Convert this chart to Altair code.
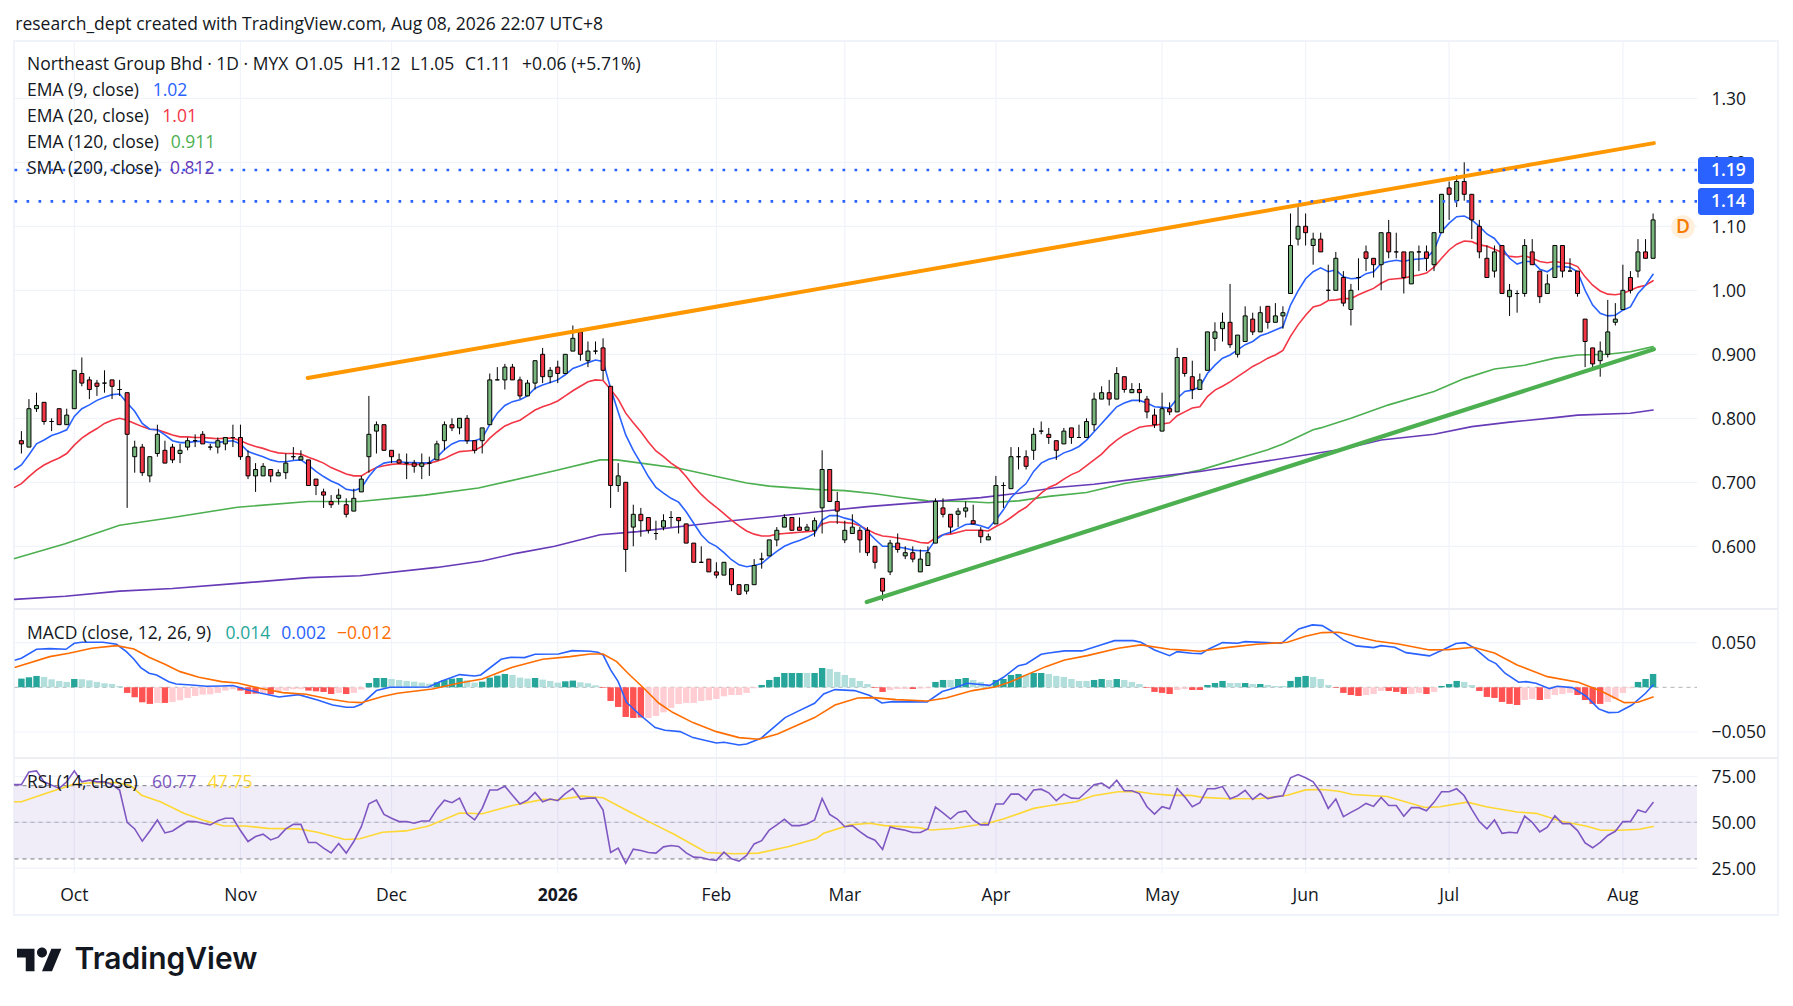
import altair as alt
import pandas as pd

FONT = "Open Sans"
INK = "#131722"
FS = 17.5

# ---------------- candles (trading-day index 0..216) ----------------
opens = [
 .765,.755,.815,.825,.795,.815,.79,.815,.87,.86,
 .855,.855,.86,.845,.84,.74,.755,.71,.745,.75,
 .755,.745,.755,.765,.775,.755,.755,.76,.77,.77,
 .74,.71,.71,.72,.71,.715,.74,.735,.735,.705,
 .685,.67,.675,.665,.655,.685,.74,.78,.79,.75,
 .735,.73,.73,.725,.73,.735,.765,.79,.785,.80,
 .765,.765,.79,.86,.86,.88,.86,.835,.855,.90,
 .865,.88,.87,.905,.935,.89,.905,.91,.85,.695,
 .70,.63,.65,.645,.62,.63,.645,.645,.635,.605,
 .575,.58,.56,.555,.565,.54,.53,.54,.58,.585,
 .61,.63,.645,.63,.625,.625,.66,.72,.67,.61,
 .62,.625,.625,.60,.55,.56,.605,.585,.59,.56,
 .57,.605,.66,.65,.65,.655,.64,.625,.61,.635,
 .695,.69,.74,.74,.75,.78,.775,.765,.76,.785,
 .77,.77,.79,.83,.84,.83,.865,.84,.845,.83,
 .805,.78,.815,.81,.895,.865,.845,.875,.925,.94,
 .95,.90,.92,.955,.935,.975,.95,.96,.995,1.08,
 1.10,1.07,1.08,1.00,1.00,1.02,.97,1.02,1.06,1.05,
 1.04,1.09,1.06,1.06,1.01,1.06,1.06,1.04,1.09,1.16,
 1.14,1.17,1.15,1.10,1.05,1.03,1.07,.99,.995,.995,
 1.06,1.03,.995,1.02,1.07,1.03,1.03,.955,.91,.89,
 .90,.95,.97,1.02,1.03,1.06,1.05]
closes = [
 .76,.815,.82,.795,.795,.79,.805,.875,.855,.845,
 .85,.855,.85,.845,.775,.755,.715,.74,.775,.73,
 .735,.75,.765,.765,.76,.755,.765,.77,.77,.74,
 .71,.72,.725,.71,.715,.73,.74,.74,.695,.695,
 .68,.665,.68,.65,.675,.705,.775,.79,.75,.74,
 .73,.73,.725,.73,.73,.76,.79,.785,.80,.765,
 .75,.785,.86,.86,.88,.86,.835,.855,.89,.865,
 .875,.87,.90,.925,.90,.905,.905,.875,.695,.71,
 .595,.65,.64,.625,.62,.64,.645,.64,.605,.575,
 .575,.56,.555,.575,.54,.525,.54,.57,.58,.61,
 .625,.645,.625,.625,.63,.64,.72,.67,.655,.625,
 .63,.61,.59,.575,.53,.605,.595,.59,.58,.58,
 .59,.67,.65,.63,.655,.66,.635,.615,.615,.695,
 .695,.74,.74,.725,.775,.78,.77,.75,.78,.77,
 .77,.795,.83,.84,.83,.87,.845,.845,.84,.81,
 .79,.815,.81,.895,.87,.845,.86,.935,.935,.95,
 .915,.93,.96,.935,.965,.95,.96,.965,1.07,1.10,
 1.09,1.08,1.06,1.00,1.05,.98,1.00,1.02,1.05,1.04,
 1.09,1.06,1.06,1.02,1.06,1.06,1.05,1.09,1.15,1.15,
 1.17,1.15,1.11,1.06,1.02,1.06,.995,1.00,.995,1.07,
 1.04,.99,1.01,1.07,1.03,1.03,.995,.92,.885,.905,
 .935,.955,1.00,1.00,1.06,1.05,1.11]
highs = [
 .78,.83,.84,.825,.80,.815,.815,.875,.895,.865,
 .86,.875,.86,.86,.84,.765,.76,.74,.79,.765,
 .76,.76,.77,.775,.78,.76,.77,.77,.79,.79,
 .75,.73,.73,.72,.72,.745,.755,.75,.735,.705,
 .69,.68,.69,.675,.69,.71,.835,.795,.79,.75,
 .745,.745,.735,.745,.74,.765,.795,.80,.80,.805,
 .765,.785,.87,.88,.885,.885,.865,.86,.89,.91,
 .88,.89,.90,.945,.94,.92,.92,.925,.85,.73,
 .70,.665,.66,.645,.64,.65,.655,.645,.635,.605,
 .60,.58,.575,.575,.565,.54,.54,.58,.59,.61,
 .63,.65,.645,.645,.635,.645,.75,.72,.685,.64,
 .65,.63,.63,.60,.55,.61,.62,.60,.60,.595,
 .60,.675,.675,.65,.66,.67,.665,.63,.62,.71,
 .70,.755,.755,.75,.785,.795,.785,.765,.785,.785,
 .79,.80,.84,.85,.86,.88,.865,.855,.855,.835,
 .815,.84,.825,.91,.895,.89,.87,.935,.95,.965,
 1.01,.93,.975,.965,.975,.975,.98,.975,1.12,1.13,
 1.12,1.09,1.09,1.04,1.06,1.03,1.01,1.05,1.07,1.05,
 1.09,1.11,1.09,1.06,1.06,1.07,1.07,1.09,1.15,1.17,
 1.18,1.20,1.15,1.11,1.07,1.07,1.07,1.01,1.00,1.08,
 1.08,1.03,1.025,1.07,1.07,1.05,1.03,.955,.91,.92,
 .985,.98,1.04,1.03,1.08,1.08,1.12]
lows = [
 .745,.755,.81,.79,.78,.79,.79,.815,.85,.83,
 .835,.84,.83,.835,.66,.715,.71,.70,.74,.73,
 .73,.73,.75,.755,.76,.75,.745,.75,.755,.735,
 .705,.685,.71,.70,.71,.705,.735,.735,.695,.68,
 .66,.66,.665,.645,.655,.685,.715,.745,.75,.73,
 .73,.705,.715,.705,.71,.735,.75,.78,.775,.76,
 .745,.745,.79,.86,.845,.86,.83,.835,.845,.855,
 .855,.855,.87,.905,.89,.88,.90,.86,.66,.685,
 .56,.60,.615,.62,.61,.625,.63,.62,.605,.575,
 .575,.56,.55,.555,.53,.525,.525,.54,.565,.585,
 .60,.63,.625,.625,.625,.615,.62,.67,.635,.605,
 .62,.59,.585,.565,.515,.555,.59,.58,.575,.56,
 .57,.605,.645,.62,.63,.645,.635,.605,.61,.635,
 .66,.69,.72,.72,.735,.775,.76,.735,.76,.76,
 .77,.77,.78,.83,.82,.83,.84,.84,.825,.80,
 .785,.78,.805,.81,.865,.83,.845,.875,.905,.92,
 .91,.895,.92,.93,.935,.94,.95,.94,.995,1.07,
 1.07,1.04,1.06,.985,1.00,.975,.945,1.00,1.03,1.02,
 1.00,1.05,1.05,.995,1.01,1.03,1.03,1.03,1.09,1.11,
 1.13,1.14,1.08,1.05,1.02,1.02,.995,.96,.965,.99,
 1.04,.98,.995,1.02,1.02,1.03,.99,.88,.875,.865,
 .895,.945,.97,.995,1.02,1.05,1.05]

# ---------------- moving averages ----------------
ma_index = [-0.9] + list(range(217))
ema9 = [
 .720,
 .727,.743,.760,.766,.773,.777,.782,.803,.815,.821,
 .828,.833,.837,.838,.824,.811,.792,.783,.782,.774,
 .765,.762,.762,.764,.764,.762,.762,.764,.765,.760,
 .748,.744,.740,.735,.732,.732,.734,.735,.727,.717,
 .709,.702,.697,.689,.687,.691,.709,.723,.730,.732,
 .732,.731,.731,.730,.731,.739,.751,.760,.765,.765,
 .765,.769,.790,.808,.820,.826,.829,.835,.847,.852,
 .856,.860,.868,.878,.882,.887,.891,.889,.847,.810,
 .774,.750,.730,.709,.692,.683,.675,.669,.654,.636,
 .618,.606,.600,.590,.579,.571,.568,.570,.573,.583,
 .592,.600,.605,.609,.614,.620,.641,.648,.648,.644,
 .641,.633,.623,.611,.600,.600,.599,.597,.594,.593,
 .593,.610,.618,.622,.628,.634,.635,.632,.628,.641,
 .657,.676,.688,.698,.717,.730,.736,.739,.746,.750,
 .756,.766,.779,.792,.805,.818,.824,.828,.828,.824,
 .818,.817,.816,.831,.842,.844,.849,.870,.883,.894,
 .899,.907,.915,.920,.929,.933,.938,.943,.977,.999,
 1.018,1.029,1.035,1.029,1.032,1.021,1.018,1.019,1.026,1.029,
 1.042,1.045,1.047,1.045,1.048,1.049,1.050,1.063,1.092,1.105,
 1.115,1.116,1.110,1.100,1.088,1.081,1.066,1.050,1.041,1.045,
 1.045,1.033,1.029,1.037,1.037,1.036,1.029,1.000,.977,.964,
 .960,.961,.969,.974,.995,1.008,1.025]
ema20 = [
 .692,
 .698,.709,.719,.727,.733,.738,.745,.758,.769,.777,
 .784,.792,.797,.800,.797,.792,.787,.783,.782,.778,
 .774,.771,.771,.770,.770,.769,.768,.769,.769,.765,
 .760,.756,.753,.749,.746,.745,.745,.744,.739,.735,
 .730,.723,.718,.713,.710,.710,.717,.723,.726,.728,
 .729,.728,.728,.728,.730,.733,.737,.743,.748,.749,
 .750,.756,.769,.779,.788,.793,.797,.805,.813,.818,
 .822,.827,.835,.843,.850,.857,.860,.859,.845,.830,
 .808,.793,.779,.763,.749,.740,.730,.722,.709,.694,
 .681,.670,.661,.651,.641,.632,.624,.619,.616,.616,
 .619,.620,.621,.622,.623,.624,.635,.638,.638,.637,
 .636,.632,.626,.620,.616,.615,.613,.611,.609,.606,
 .605,.613,.618,.619,.622,.625,.625,.625,.624,.631,
 .637,.645,.654,.661,.672,.683,.692,.697,.705,.712,
 .717,.726,.735,.744,.756,.766,.774,.780,.786,.788,
 .789,.791,.793,.804,.810,.816,.818,.834,.844,.850,
 .857,.865,.873,.881,.887,.894,.899,.906,.928,.946,
 .961,.974,.977,.984,.985,.987,.987,.993,.998,1.003,
 1.011,1.017,1.018,1.019,1.022,1.024,1.027,1.036,1.050,1.063,
 1.072,1.077,1.076,1.071,1.069,1.064,1.059,1.053,1.052,1.054,
 1.050,1.045,1.043,1.045,1.043,1.042,1.037,1.021,1.008,.999,
 .994,.993,.995,1.000,1.005,1.008,1.015]
ema120_x = [-0.9,5.8,13,20,28.6,38,44.8,53.4,60.5,70.6,76.6,78.8,82,87,92,96,99,105,109,113,116,120,125,128,132,136,141,146,152,156,165,167,171,172,176,181,187,191,195,199,203,206,210,213,216]
ema120 = [.581,.604,.633,.645,.661,.670,.670,.680,.691,.718,.735,.735,.730,.722,.709,.699,.694,.689,.687,.682,.677,.671,.670,.668,.671,.678,.684,.698,.709,.719,.751,.760,.782,.785,.800,.821,.842,.862,.877,.883,.894,.899,.900,.904,.912]
sma200_x = [-0.9,5.8,13,20,28.6,38,44.8,55,61,65.5,70.6,76.6,81.6,88.7,94,100,105.4,112,119.6,127,132,137,142,147.5,156,175,180,187,192,197,203,206,213,216]
sma200 = [.517,.522,.530,.534,.542,.551,.554,.567,.577,.589,.600,.618,.623,.633,.640,.647,.654,.662,.669,.676,.683,.692,.697,.705,.717,.752,.766,.775,.787,.794,.801,.805,.808,.813]

trend_up_x = [37.9, 216.1]
trend_up = [.863, 1.23]
trend_low_x = [111.9, 216.1]
trend_low = [.513, .908]
levels = [1.188, 1.139]

# ---------------- MACD ----------------
hist = [
 .0097,.0112,.0127,.0116,.0089,.0071,.0060,.0093,.0090,.0078,
 .0060,.0045,.0037,.0015,-.0063,-.0112,-.0168,-.0186,-.0175,-.0175,
 -.0164,-.0145,-.0119,-.0097,-.0082,-.0078,-.0063,-.0037,-.0022,-.0037,
 -.0075,-.0071,-.0063,-.0078,-.0045,-.0037,-.0022,-.0022,-.0037,-.0045,
 -.0052,-.0075,-.0063,-.0075,-.0063,-.0026,.0048,.0104,.0104,.0093,
 .0082,.0071,.0063,.0052,.0041,.0056,.0082,.0097,.0104,.0078,
 .0052,.0063,.0108,.0130,.0149,.0138,.0108,.0097,.0104,.0086,
 .0071,.0052,.0067,.0075,.0056,.0045,.0022,-.0007,-.0153,-.0220,
 -.0332,-.0343,-.0339,-.0343,-.0321,-.0280,-.0231,-.0186,-.0175,-.0175,
 -.0153,-.0145,-.0130,-.0101,-.0086,-.0086,-.0063,-.0011,.0026,.0082,
 .0116,.0160,.0160,.0160,.0160,.0160,.0216,.0205,.0172,.0138,
 .0104,.0071,.0037,-.0007,-.0052,-.0030,-.0019,-.0019,-.0019,-.0015,
 -.0011,.0060,.0082,.0082,.0093,.0104,.0082,.0060,.0019,.0082,
 .0093,.0138,.0149,.0138,.0160,.0160,.0149,.0127,.0116,.0093,
 .0071,.0071,.0082,.0093,.0082,.0093,.0082,.0060,.0037,-.0007,
 -.0052,-.0063,-.0075,-.0030,-.0019,-.0030,-.0030,.0026,.0048,.0071,
 .0048,.0048,.0048,.0037,.0037,.0026,.0015,.0015,.0071,.0116,
 .0127,.0116,.0093,.0026,-.0007,-.0063,-.0086,-.0097,-.0086,-.0075,
 -.0041,-.0041,-.0052,-.0075,-.0075,-.0063,-.0075,-.0052,.0015,.0037,
 .0071,.0060,.0026,-.0041,-.0108,-.0119,-.0164,-.0186,-.0198,-.0142,
 -.0130,-.0142,-.0130,-.0086,-.0075,-.0063,-.0086,-.0142,-.0186,-.0186,
 -.0164,-.0130,-.0063,-.0011,.0060,.0093,.0149]
hist_shade = "".join([
 "dddlllldll", "llllddddld", "llllllllld", "ddldlllldd", "ddldlldddl",
 "lllllddddl", "lddddllldl", "llddllldd" + "d", "dddlllllll", "lllllllldd",
 "ddddlddlll", "lllddllldl", "lddlddllld", "dddlddllll", "llddldllld",
 "dddllddddd", "lldldllldd", "dlllddddll", "ldddlldldd", "dllddddddl",
 "ldlllldddd", "llllddd"])
macd_x = [-0.8,0,2,3.75,5.9,7,8,10.8,12.6,13.9,14.9,15.8,16.9,17.9,19.5,20.5,22.5,24.5,26.5,28,29.6,31.6,34.1,36.7,39.2,41.2,43,44,45,47,48.8,53.9,55.4,58,60,60.8,63.5,64.8,66.6,68,71.1,72.9,75.3,76.3,77,78,79,80.1,81.9,83.9,85.2,87.2,88.9,92,93,95,96,97.9,101.1,102.7,105,106.2,107.7,110.3,112.3,113.9,115.3,119.9,121.9,123.4,125.2,128.2,130,132,133,135,136,138.1,140.4,143.2,144.7,147.2,148.2,150,152,153,154.9,156.2,157.2,159,161,162,166.8,169.1,170.9,172.2,173.4,175,176.7,179,180,181.8,183.3,186.4,188.4,189.9,191.1,192.4,194.2,195.2,196.4,198.2,199.2,200.5,202.3,203.3,205.3,207.1,208.8,210.1,211.4,213.2,215,216]
macd = [.0306,.0325,.0425,.0433,.0425,.0492,.0504,.0504,.0481,.0399,.0313,.0220,.0157,.0138,.0063,.0037,.0026,.0011,.0015,.0019,-.0022,-.0063,-.0108,-.0082,-.0142,-.0198,-.0224,-.0224,-.0190,-.0037,0,.0004,.0063,.0142,.0127,.0138,.0313,.0336,.0332,.0369,.0373,.0410,.0403,.0392,.0362,.0194,.0063,-.0168,-.0310,-.0451,-.0481,-.0496,-.0563,-.0623,-.0615,-.0645,-.0634,-.0571,-.0339,-.0272,-.0179,-.0075,-.0026,-.0037,-.0093,-.0175,-.0160,-.0164,-.0048,-.0011,.0045,.0022,.0112,.0242,.0261,.0369,.0384,.0407,.0407,.0481,.0522,.0522,.0504,.0418,.0354,.0399,.0380,.0377,.0429,.0500,.0492,.0511,.0492,.0653,.0698,.0690,.0630,.0530,.0463,.0444,.0466,.0448,.0388,.0351,.0429,.0489,.0500,.0436,.0306,.0265,.0157,.0056,.0063,.0045,-.0015,.0011,-.0004,-.0097,-.0242,-.0283,-.0280,-.0198,-.0067,.0025]
signal_x = [-0.8,3.75,6.3,9.3,12.6,14.9,16.9,19,21,23.5,26.5,28.6,31.6,34.6,37.7,40.7,43.3,45,47.8,49.8,54.4,58,61,65,69,72.6,75.3,77,78.8,80.3,82.4,84.4,86.2,88.9,92,95,97.6,100.1,105,107.7,110.7,112.8,115.8,119.9,122.4,125.9,128.9,130.8,135.6,138.1,141.1,145.2,148.2,152,153.4,156,159.5,163.5,167.6,170,172.2,174.4,177.2,179.3,182.3,186.4,188.9,192.2,195,198,202,206.1,209.1,212.2,214,216]
signal = [.0224,.0343,.0380,.0436,.0466,.0429,.0336,.0257,.0175,.0112,.0063,.0048,-.0011,-.0060,-.0078,-.0131,-.0164,-.0172,-.0104,-.0067,-.0019,.0048,.0093,.0224,.0313,.0343,.0373,.0373,.0287,.0157,-.0011,-.0179,-.0280,-.0395,-.0496,-.0563,-.0582,-.0522,-.0339,-.0198,-.0119,-.0116,-.0138,-.0153,-.0119,-.0037,.0004,.0056,.0231,.0306,.0354,.0436,.0474,.0425,.0418,.0403,.0444,.0481,.0504,.0571,.0612,.0615,.0556,.0518,.0485,.0418,.0421,.0448,.0384,.0250,.0119,.0056,-.0041,-.0172,-.0168,-.0110]

# ---------------- RSI ----------------
rsi = [
 70.6,
 70.6,77.5,78.1,72.1,70.3,68.5,72.1,78.1,72.1,73.0,
 72.1,72.1,70.6,67.6,50.0,46.4,39.7,45.3,51.3,44.2,
 45.3,48.0,50.5,50.4,49.5,48.6,50.9,52.2,52.2,45.5,
 39.5,42.2,43.5,40.4,41.9,46.4,48.9,48.9,39.0,39.0,
 35.9,33.3,38.4,33.2,39.5,47.6,60.1,62.1,54.3,52.2,
 50.4,50.4,49.5,50.7,50.7,57.2,62.1,60.7,63.2,54.5,
 51.3,57.6,67.6,67.6,69.7,64.8,60.0,62.1,66.3,61.2,
 62.7,61.8,65.7,68.5,62.7,63.2,63.2,56.7,33.5,35.9,
 27.7,35.3,34.6,33.5,33.2,36.6,37.3,36.8,33.3,31.0,
 30.8,29.7,29.2,33.7,30.1,28.8,31.9,38.2,40.0,45.8,
 48.6,51.6,48.2,48.2,49.1,51.3,63.0,54.3,51.8,47.6,
 48.2,44.9,42.0,40.2,35.2,47.5,46.4,45.7,44.4,44.4,
 46.4,58.3,55.2,51.8,55.4,56.2,51.3,48.6,48.6,60.0,
 60.0,65.4,65.4,62.1,67.6,68.1,66.1,61.8,65.4,63.2,
 63.0,66.7,70.5,71.4,68.6,73.0,67.2,67.2,65.7,58.5,
 54.5,58.5,57.4,68.5,63.9,58.5,60.7,68.3,68.3,69.5,
 62.9,64.5,67.4,62.5,65.7,62.9,63.9,64.5,74.3,76.1,
 74.3,72.1,66.3,57.6,62.7,53.1,55.4,57.6,60.3,58.7,
 63.6,59.2,59.2,53.3,58.0,58.0,56.3,60.9,66.7,66.7,
 68.3,64.5,57.1,50.4,46.4,51.3,44.0,44.6,44.2,53.4,
 50.0,44.8,47.3,53.6,49.3,49.3,45.5,38.8,36.1,39.1,
 42.8,45.1,50.4,50.4,56.7,55.4,60.77]
rsi_ma_x = [-0.9,0,3.2,6.8,8.8,12.4,14.4,15.9,18.4,21.5,24,26.8,29.6,32.6,36.7,39.2,42.8,44.8,47.8,50.9,53.9,58,61,65,69.1,71.1,74.2,77,80.3,83.9,86.4,90.7,94.5,97.6,101.6,105.2,106.2,109.7,112.3,114.3,118.8,120.4,123.4,127.9,130,134,136,139.6,141.9,145.2,147.7,149.7,152.3,154.7,156.4,160,164,167.6,170,172.2,174.4,176.2,180.8,185.8,187.8,191.4,193.9,198,200.5,204,207.1,209.1,211.6,214.2,216]
rsi_ma = [61.2,61.2,65.7,70.6,71.5,71.7,70.3,64.8,61.2,54.9,51.3,48.0,48.0,46.7,46.4,44.6,40.6,41.0,44.6,45.3,48.0,55.1,54.7,59.2,62.5,62.3,64.3,63.4,56.2,48.6,43.5,33.5,32.8,33.2,36.8,41.0,44.0,48.6,49.5,48.2,47.1,45.8,46.6,49.5,51.8,57.6,59.0,61.2,64.5,66.7,66.8,65.6,64.7,64.8,63.6,62.9,63.0,64.8,67.7,67.9,67.0,65.2,64.1,58.1,58.5,61.0,58.5,55.6,54.9,50.4,48.0,45.7,45.7,46.2,47.75]

# ---------------- axes ----------------
month_idx = [7, 29, 49, 71, 92, 109, 129, 151, 170, 189, 212]
month_labels = ["Oct", "Nov", "Dec", "2026", "Feb", "Mar", "Apr", "May", "Jun", "Jul", "Aug"]
month_weight = [400, 400, 400, 700, 400, 400, 400, 400, 400, 400, 400]
price_ticks = [0.6, 0.7, 0.8, 0.9, 1.0, 1.1, 1.2, 1.3]
macd_ticks = [0.05, -0.05]
rsi_ticks = [25, 50, 75]

WIDTH, HEIGHT = 1777, 980
LEFT, RIGHT = 6.5, 1689

xs = alt.Scale(domain=[-0.9, 221.8], range=[6.6, 1688.9], nice=False, zero=False, padding=0)
ps = alt.Scale(domain=[0.5, 1.4], range=[602.3, 26.3], nice=False, zero=False)
ms = alt.Scale(domain=[-0.08, 0.085], range=[750.8, 603.3], nice=False, zero=False)
rs = alt.Scale(domain=[22, 85], range=[865.6, 750.2], nice=False, zero=False)
X = lambda f="i": alt.X(f"{f}:Q", scale=xs, axis=None)
one = alt.Data(values=[{"a": 1}])
layers = []


def text(s, x, y, color=INK, size=FS, weight=400, align="left", font=FONT):
    layers.append(alt.Chart(one).mark_text(text=s, align=align, baseline="middle", font=font,
                                           fontSize=size, fontWeight=weight, color=color)
                  .encode(x=alt.value(x - 8), y=alt.value(y - 7)))


def line(xv, yv, scale, color, width=1.6):
    df = pd.DataFrame({"i": xv, "v": yv})
    layers.append(alt.Chart(df).mark_line(color=color, strokeWidth=width, clip=False, strokeCap="round")
                  .encode(x=X(), y=alt.Y("v:Q", scale=scale, axis=None)))


def hgrid(vals, scale, axis):
    df = pd.DataFrame({"v": vals})
    layers.append(alt.Chart(df).mark_rule(color="#f0f3fa", strokeWidth=1.2)
                  .encode(y=alt.Y("v:Q", scale=scale, axis=axis), x=alt.value(LEFT), x2=alt.value(RIGHT)))


# frame + separators
layers.append(alt.Chart(one).mark_rect(fill="transparent", stroke="#f0f3fa", strokeWidth=2).encode(
    x=alt.value(6), x2=alt.value(1770), y=alt.value(33), y2=alt.value(907)))

# vertical grid + month labels, placed by the shared time scale
months = pd.DataFrame({"i": month_idx, "label": month_labels, "w": month_weight})
layers.append(alt.Chart(months).mark_rule(color="#f0f3fa", strokeWidth=1.2).encode(
    x=X(), y=alt.value(33), y2=alt.value(865)))
for wt in sorted(set(month_weight)):
    layers.append(alt.Chart(months[months.w == wt]).mark_text(font=FONT, fontSize=FS, fontWeight=wt, color=INK,
                                                              baseline="middle", align="center")
                  .encode(x=X(), y=alt.value(887.5), text="label:N"))


def vaxis(ticks, expr):
    return alt.Axis(values=ticks, orient="right", offset=-74, labelPadding=0, domain=False, ticks=False,
                    grid=False, title=None, labelFont=FONT, labelFontSize=FS, labelColor=INK,
                    labelOverlap=False, labelExpr=expr, labelAlign="left", labelOffset=1)


hgrid(price_ticks, ps, vaxis(price_ticks, "datum.value>=1?format(datum.value,'.2f'):format(datum.value,'.3f')"))
hgrid(macd_ticks, ms, vaxis(macd_ticks, "datum.value>0?'0.050':'\u22120.050'"))
hgrid(rsi_ticks, rs, vaxis(rsi_ticks, "format(datum.value,'.2f')"))

for sep in [601, 750]:
    layers.append(alt.Chart(one).mark_rule(color="#eceef3", strokeWidth=2).encode(
        x=alt.value(6), x2=alt.value(1770), y=alt.value(sep)))

# price pane
line(ema120_x, ema120, ps, "#4CAF50")
line(sma200_x, sma200, ps, "#673AB7")
line(ma_index, ema20, ps, "#F23645")
line(ma_index, ema9, ps, "#2962FF")

candles = pd.DataFrame({"i": range(217), "o": opens, "h": highs, "l": lows, "c": closes})
candles["top"] = candles[["o", "c"]].max(axis=1)
candles["bot"] = candles[["o", "c"]].min(axis=1)
candles["col"] = ["#78B67D" if c >= o else "#F23645" for o, c in zip(opens, closes)]
layers.append(alt.Chart(candles).mark_rule(color="black", strokeWidth=1).encode(
    x=X(), y=alt.Y("h:Q", scale=ps, axis=None), y2="l:Q"))
layers.append(alt.Chart(candles).mark_bar(size=4, stroke="black", strokeWidth=1).encode(
    x=X(), y=alt.Y("top:Q", scale=ps, axis=None), y2="bot:Q",
    color=alt.Color("col:N", scale=None, legend=None)))

line(trend_up_x, trend_up, ps, "#FF9800", 4)
line(trend_low_x, trend_low, ps, "#4CAF50", 4.2)
layers.append(alt.Chart(pd.DataFrame({"v": levels})).mark_rule(color="#2962FF", strokeWidth=2.7, strokeDash=[2.7, 9.3]).encode(
    y=alt.Y("v:Q", scale=ps, axis=None), x=alt.value(LEFT), x2=alt.value(RIGHT)))

# MACD pane
layers.append(alt.Chart(pd.DataFrame({"v": [0]})).mark_rule(color="#787b86", strokeWidth=1, strokeDash=[4, 4], opacity=0.6).encode(
    y=alt.Y("v:Q", scale=ms, axis=None), x=alt.value(LEFT), x2=alt.value(RIGHT)))
hist_colors = {"upd": "#26A69A", "upl": "#B2DFDB", "dnd": "#FF5252", "dnl": "#FFCDD2"}
hist_df = pd.DataFrame({"i": range(217), "v": hist, "zero": 0.0, "s": list(hist_shade)})
hist_df["col"] = [hist_colors[("up" if v >= 0 else "dn") + s] for v, s in zip(hist_df.v, hist_df.s)]
layers.append(alt.Chart(hist_df).mark_bar(size=6.4).encode(
    x=X(), y=alt.Y("v:Q", scale=ms, axis=None), y2="zero:Q",
    color=alt.Color("col:N", scale=None, legend=None)))
line(macd_x, macd, ms, "#2962FF")
line(signal_x, signal, ms, "#FF6D00")

# RSI pane
layers.append(alt.Chart(pd.DataFrame({"a": [30], "b": [70]})).mark_rect(color="#7E57C2", opacity=0.11).encode(
    y=alt.Y("a:Q", scale=rs, axis=None), y2="b:Q", x=alt.value(LEFT), x2=alt.value(RIGHT)))
for lvl, op in [(70, 1), (50, 0.55), (30, 1)]:
    layers.append(alt.Chart(pd.DataFrame({"v": [lvl]})).mark_rule(color="#787b86", strokeWidth=1, strokeDash=[4, 4], opacity=op).encode(
        y=alt.Y("v:Q", scale=rs, axis=None), x=alt.value(LEFT), x2=alt.value(RIGHT)))
line(rsi_ma_x, rsi_ma, rs, "#FDD835")
line(ma_index, rsi, rs, "#7E57C2")

# legends
text("research_dept created with TradingView.com, Aug 08, 2026 22:07 UTC+8", 15.3, 23.5)
text("Northeast Group Bhd \u00b7 1D \u00b7 MYX", 27, 63.5)
for s, x in [("O1.05", 295), ("H1.12", 353), ("L1.05", 410.6), ("C1.11", 465), ("+0.06 (+5.71%)", 522)]:
    text(s, x, 63.5)
for label, val, col, xv, y in [("EMA (9, close)", "1.02", "#2962FF", 152.7, 90),
                               ("EMA (20, close)", "1.01", "#F23645", 162.3, 116),
                               ("EMA (120, close)", "0.911", "#4CAF50", 170.7, 142),
                               ("SMA (200, close)", "0.812", "#673AB7", 170, 168)]:
    text(label, 27, y)
    text(val, xv, y, col)
text("MACD (close, 12, 26, 9)", 27, 633)
text("0.014", 225.6, 633, "#26A69A")
text("0.002", 281.3, 633, "#2962FF")
text("\u22120.012", 337, 633, "#FF6D00")
text("RSI (14, close)", 27, 781.5)
text("60.77", 152, 781.5, "#7E57C2")
text("47.75", 207.8, 781.5, "#FDD835")

# price tags
for ylab, top in [("1.19", 157), ("1.14", 188)]:
    layers.append(alt.Chart(one).mark_rect(fill="#2962FF", cornerRadius=3).encode(
        x=alt.value(1698 - 8), x2=alt.value(1754 - 8), y=alt.value(top - 8), y2=alt.value(top + 27 - 8)))
    text(ylab, 1711, top + 12.5, "white", FS, 600)
layers.append(alt.Chart(one).mark_point(shape="circle", filled=True, size=556, color="#FFEFDB", opacity=1).encode(
    x=alt.value(1683 - 8), y=alt.value(227 - 8)))
text("D", 1683, 226, "#F57C00", 19, 600, "center")

# logo
logo = ("M-.222 .5H-.611V-.111H-1V-.5H-.222Z"
        "M.556 .5H.111L.528 -.5H.972Z"
        "M-.111 -.333a.222 .222 0 1 0 .444 0a.222 .222 0 1 0 -.444 0Z")
layers.append(alt.Chart(one).mark_point(shape=logo, filled=True, size=2025, color=INK, opacity=1).encode(
    x=alt.value(39.5 - 8), y=alt.value(960 - 8)))
text("TradingView", 74.6, 959, INK, 30, 600, "left", "Inter")

chart = (alt.layer(*layers)
         .resolve_scale(y="independent")
         .properties(width=WIDTH, height=HEIGHT, padding=0, background="white",
                     autosize=alt.AutoSizeParams(type="none"))
         .configure_view(strokeWidth=0))

chart.save("out.html", embed_options={"renderer": "svg", "actions": False})
